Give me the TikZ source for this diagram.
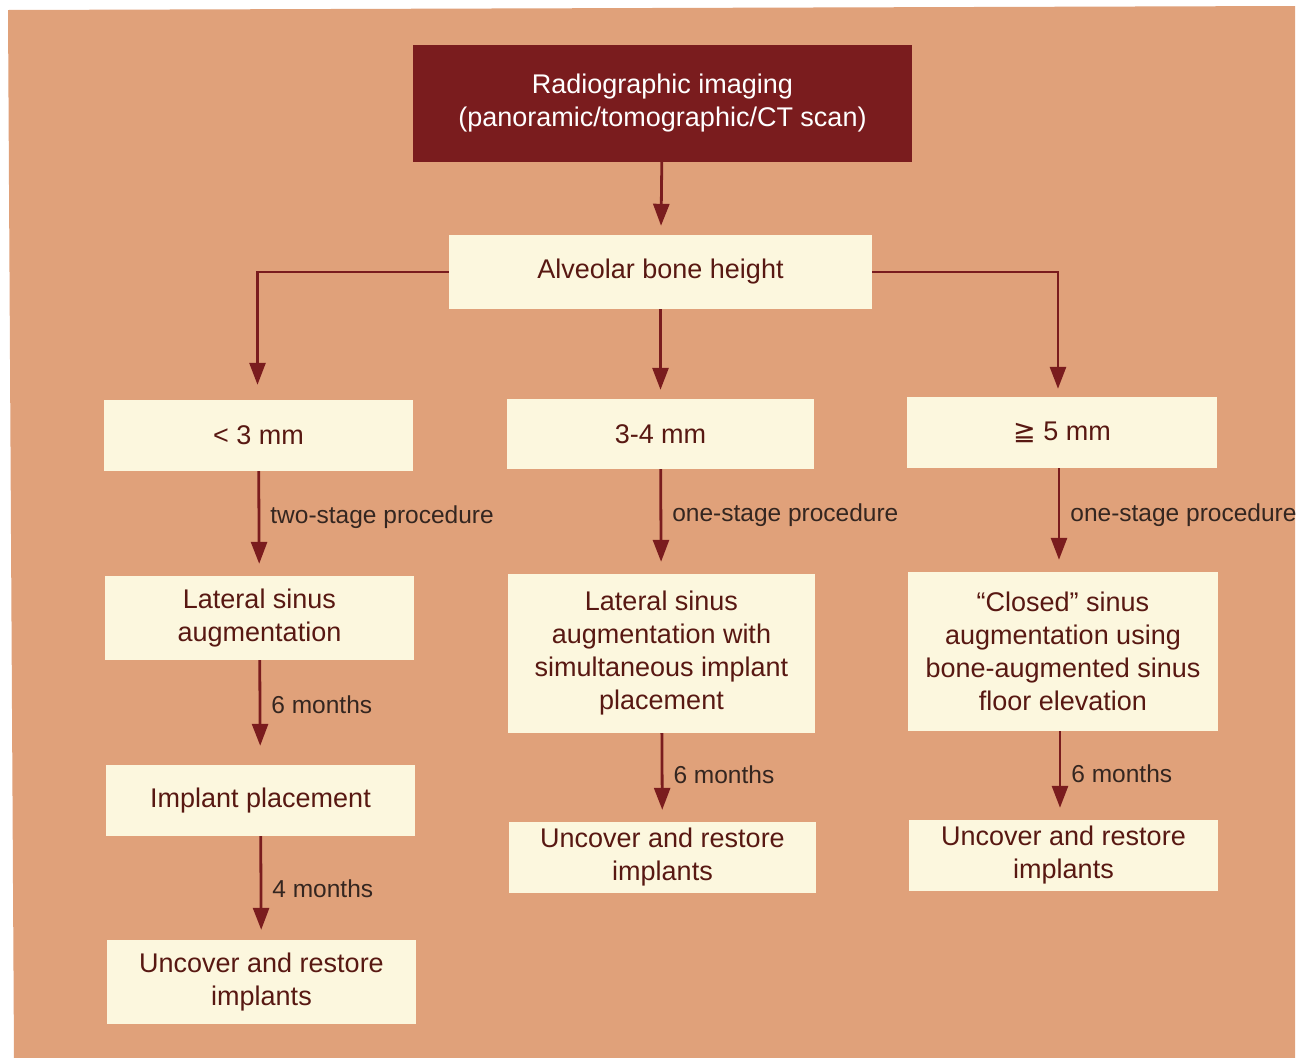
\documentclass[tikz,border=0pt]{standalone}
\usepackage{fontspec}
\setmainfont{Liberation Sans}
\newfontfamily\symfont{DejaVu Sans}
\usetikzlibrary{arrows.meta}
\definecolor{bgc}{RGB}{224,161,122}
\definecolor{boxc}{RGB}{252,247,222}
\definecolor{darkc}{RGB}{122,28,30}
\definecolor{txtc}{RGB}{88,24,18}
\definecolor{lblc}{RGB}{52,38,32}
\tikzset{
  x=1pt,y=-1pt,
  cbox/.style={rectangle,fill=boxc,text=txtc,align=center,inner sep=0pt,
    font=\fontsize{27}{33}\selectfont},
  topbox/.style={rectangle,fill=darkc,text=white,align=center,inner sep=0pt,
    font=\fontsize{27}{33}\selectfont},
  arr/.style={draw=darkc,line width=2.8pt,-{Triangle[length=22pt,width=16pt]}},
  lbl/.style={midway,anchor=west,inner sep=0pt,xshift=10pt,text=lblc,
    font=\fontsize{24.5}{28}\selectfont}
}
\newcommand{\mkbox}[6]{% name, style, x1, y1, x2, y2 ; text follows
  \node[#2,minimum width={#5-#3},minimum height={#6-#4}] (#1) at ({(#3+#5)/2},{(#4+#6)/2})}
\begin{document}
\begin{tikzpicture}
\useasboundingbox[fill=white] (0,0) rectangle (1302,1058);
\fill[bgc] (8,10) -- (1295,6) -- (1295,1058) -- (14,1058) -- cycle;

\mkbox{top}{topbox}{413}{45}{912}{162}{Radiographic imaging\\(panoramic/tomographic/CT scan)};
\mkbox{alv}{cbox}{449}{235}{872}{309}{Alveolar bone height};
\mkbox{lt}{cbox}{104}{400}{413}{471}{< 3 mm};
\mkbox{mid}{cbox}{507}{399}{814}{469}{3-4 mm};
\mkbox{ge}{cbox}{907}{397}{1217}{468}{{\symfont ≧} 5 mm};
\mkbox{lat}{cbox}{105}{576}{414}{660}{Lateral sinus\\augmentation};
\mkbox{latsim}{cbox}{508}{574}{815}{733}{Lateral sinus\\augmentation with\\simultaneous implant\\placement};
\mkbox{closed}{cbox}{908}{572}{1218}{731}{“Closed” sinus\\augmentation using\\bone-augmented sinus\\floor elevation};
\mkbox{imp}{cbox}{106}{765}{415}{836}{Implant placement};
\mkbox{unl}{cbox}{107}{940}{416}{1024}{Uncover and restore\\implants};
\mkbox{unm}{cbox}{509}{822}{816}{893}{Uncover and restore\\implants};
\mkbox{unr}{cbox}{909}{820}{1218}{891}{Uncover and restore\\implants};

\draw[arr,shorten >=9pt] (top) -- (alv);
\draw[arr,shorten >=15pt] (alv.west) -| ([xshift=-1pt]lt.north);
\draw[arr,shorten >=9pt] (alv) -- (mid);
\draw[arr,shorten >=8pt] (alv.east) -| ([xshift=-4pt]ge.north);
\draw[arr,shorten >=12pt] (lt) -- (lat) node[lbl,yshift=6pt]{two-stage procedure};
\draw[arr,shorten >=12pt] (mid) -- (latsim) node[lbl,yshift=6pt]{one-stage procedure};
\draw[arr,shorten >=12pt] ([xshift=-3pt]ge.south) -- ([xshift=-4pt]closed.north) node[lbl,yshift=5pt]{one-stage procedure};
\draw[arr,shorten >=19pt] (lat) -- (imp) node[lbl,yshift=8pt]{6 months};
\draw[arr,shorten >=10pt] (imp) -- (unl) node[lbl,yshift=-1pt]{4 months};
\draw[arr,shorten >=12pt] (latsim) -- (unm) node[lbl,yshift=3pt]{6 months};
\draw[arr,shorten >=12pt] ([xshift=-3pt]closed.south) -- ([xshift=-3.5pt]unr.north) node[lbl,yshift=2pt]{6 months};
\end{tikzpicture}
\end{document}
